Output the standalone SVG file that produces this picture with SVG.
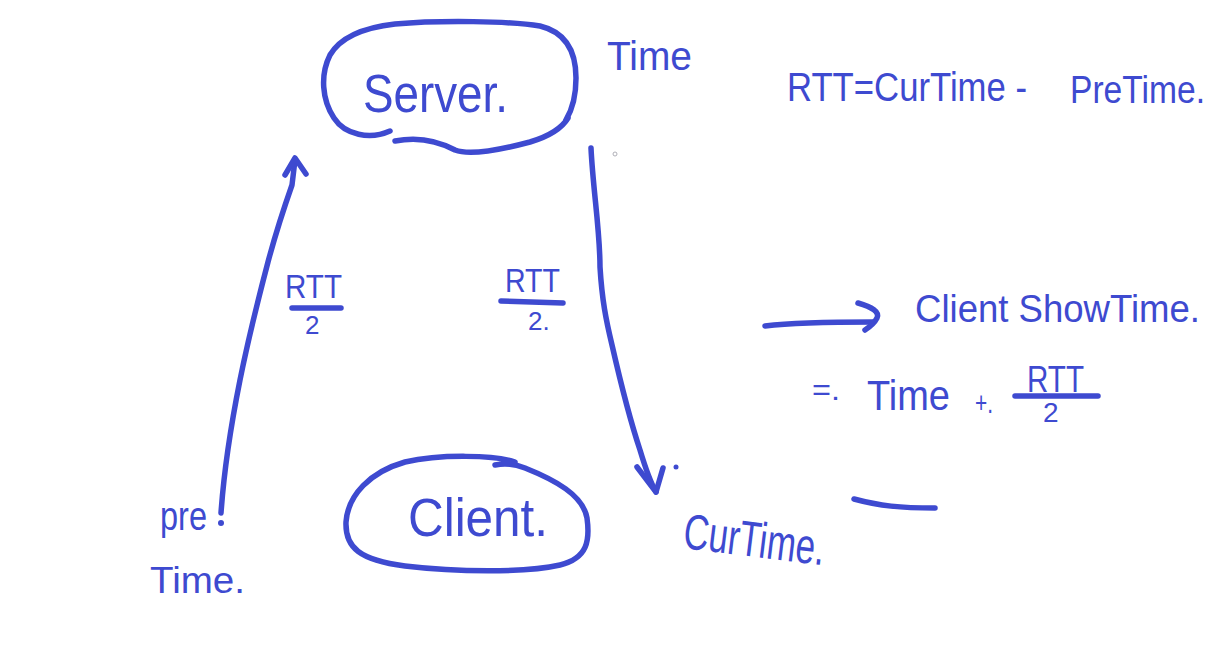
<svg xmlns="http://www.w3.org/2000/svg" width="1231" height="648" viewBox="0 0 1231 648">
<style>
.s{fill:none;stroke:#3e4ad0;stroke-width:5.5;stroke-linecap:round;stroke-linejoin:round}
.t{fill:#3e4ad0;font-family:"Liberation Sans",Arial,sans-serif}
.d{fill:#3e4ad0}
</style>
<rect width="1231" height="648" fill="#ffffff"/>
<g id="server">
<path class="s" d="M390,131 C370,140 345,135 334,118 C322,100 320,75 330,55 C340,38 360,28 395,24 C440,20 510,21 540,26 C565,32 576,50 576,78 C576,98 572,110 566,120"/>
<path class="s" d="M395,141 C420,136 440,142 455,150 C470,156 500,150 530,142 C550,136 562,128 568,118"/>
<text class="t" x="363" y="112" font-size="54" textLength="145" lengthAdjust="spacingAndGlyphs">Server.</text>
</g>
<g id="client">
<path class="s" d="M515,462 C495,455 440,454 405,462 C370,472 348,495 346,522 C345,548 360,560 405,566 C455,572 525,573 560,565 C588,558 590,540 587,518 C583,495 555,480 525,468 C515,464 505,463 495,465"/>
<text class="t" x="408" y="536" font-size="54" textLength="140" lengthAdjust="spacingAndGlyphs">Client.</text>
</g>
<g id="connectors">
<path class="s" d="M221,513 C224,470 232,420 240,380 C248,340 258,300 268,262 C276,232 285,205 292,185 L295,160"/>
<path class="s" d="M285,175 L295,158 L306,174"/>
<circle class="d" cx="221" cy="523" r="3"/>
<path class="s" d="M591,148 C593,190 600,230 600,267 C602,300 606,320 612,345 C620,380 630,420 640,450 C646,470 652,485 656,492"/>
<path class="s" d="M637,467 L656,492 L663,468"/>
<circle class="d" cx="676" cy="467" r="2.5"/>
<path class="s" d="M765,326 C790,323 820,322 873,322"/>
<path class="s" d="M858,303 C872,307 880,312 877,318 C874,324 868,328 865,330"/>
<path class="s" d="M854,499 C880,506 900,508 935,508"/>
<circle cx="615" cy="154" r="2" fill="none" stroke="#b0b0b8" stroke-width="1"/>
</g>
<g id="labels">
<text class="t" x="607" y="70" font-size="40" textLength="85" lengthAdjust="spacingAndGlyphs">Time</text>
<text class="t" x="787" y="101" font-size="40" textLength="240" lengthAdjust="spacingAndGlyphs">RTT=CurTime -</text>
<text class="t" x="1070" y="103" font-size="38" textLength="135" lengthAdjust="spacingAndGlyphs">PreTime.</text>
<text class="t" x="285" y="298" font-size="34" textLength="57" lengthAdjust="spacingAndGlyphs">RTT</text>
<path class="s" d="M292,308 L341,308"/>
<text class="t" x="305" y="334" font-size="26">2</text>
<text class="t" x="505" y="292" font-size="34" textLength="55" lengthAdjust="spacingAndGlyphs">RTT</text>
<path class="s" d="M501,301 L563,303"/>
<text class="t" x="528" y="330" font-size="26">2.</text>
<text class="t" x="160" y="530" font-size="40" textLength="47" lengthAdjust="spacingAndGlyphs">pre</text>
<text class="t" x="150" y="593" font-size="36" textLength="95" lengthAdjust="spacingAndGlyphs">Time.</text>
<text class="t" x="682" y="548" font-size="50" textLength="142" lengthAdjust="spacingAndGlyphs" transform="rotate(7 682 548)">CurTime.</text>
<text class="t" x="915" y="322" font-size="38" textLength="285" lengthAdjust="spacingAndGlyphs">Client ShowTime.</text>
<text class="t" x="812" y="400" font-size="30" textLength="28" lengthAdjust="spacingAndGlyphs">=.</text>
<text class="t" x="867" y="410" font-size="42" textLength="83" lengthAdjust="spacingAndGlyphs">Time</text>
<text class="t" x="975" y="413" font-size="30" textLength="18" lengthAdjust="spacingAndGlyphs">+.</text>
<text class="t" x="1027" y="392" font-size="36" textLength="57" lengthAdjust="spacingAndGlyphs">RTT</text>
<path class="s" d="M1015,396 L1098,396"/>
<text class="t" x="1043" y="422" font-size="28">2</text>
</g>
</svg>
